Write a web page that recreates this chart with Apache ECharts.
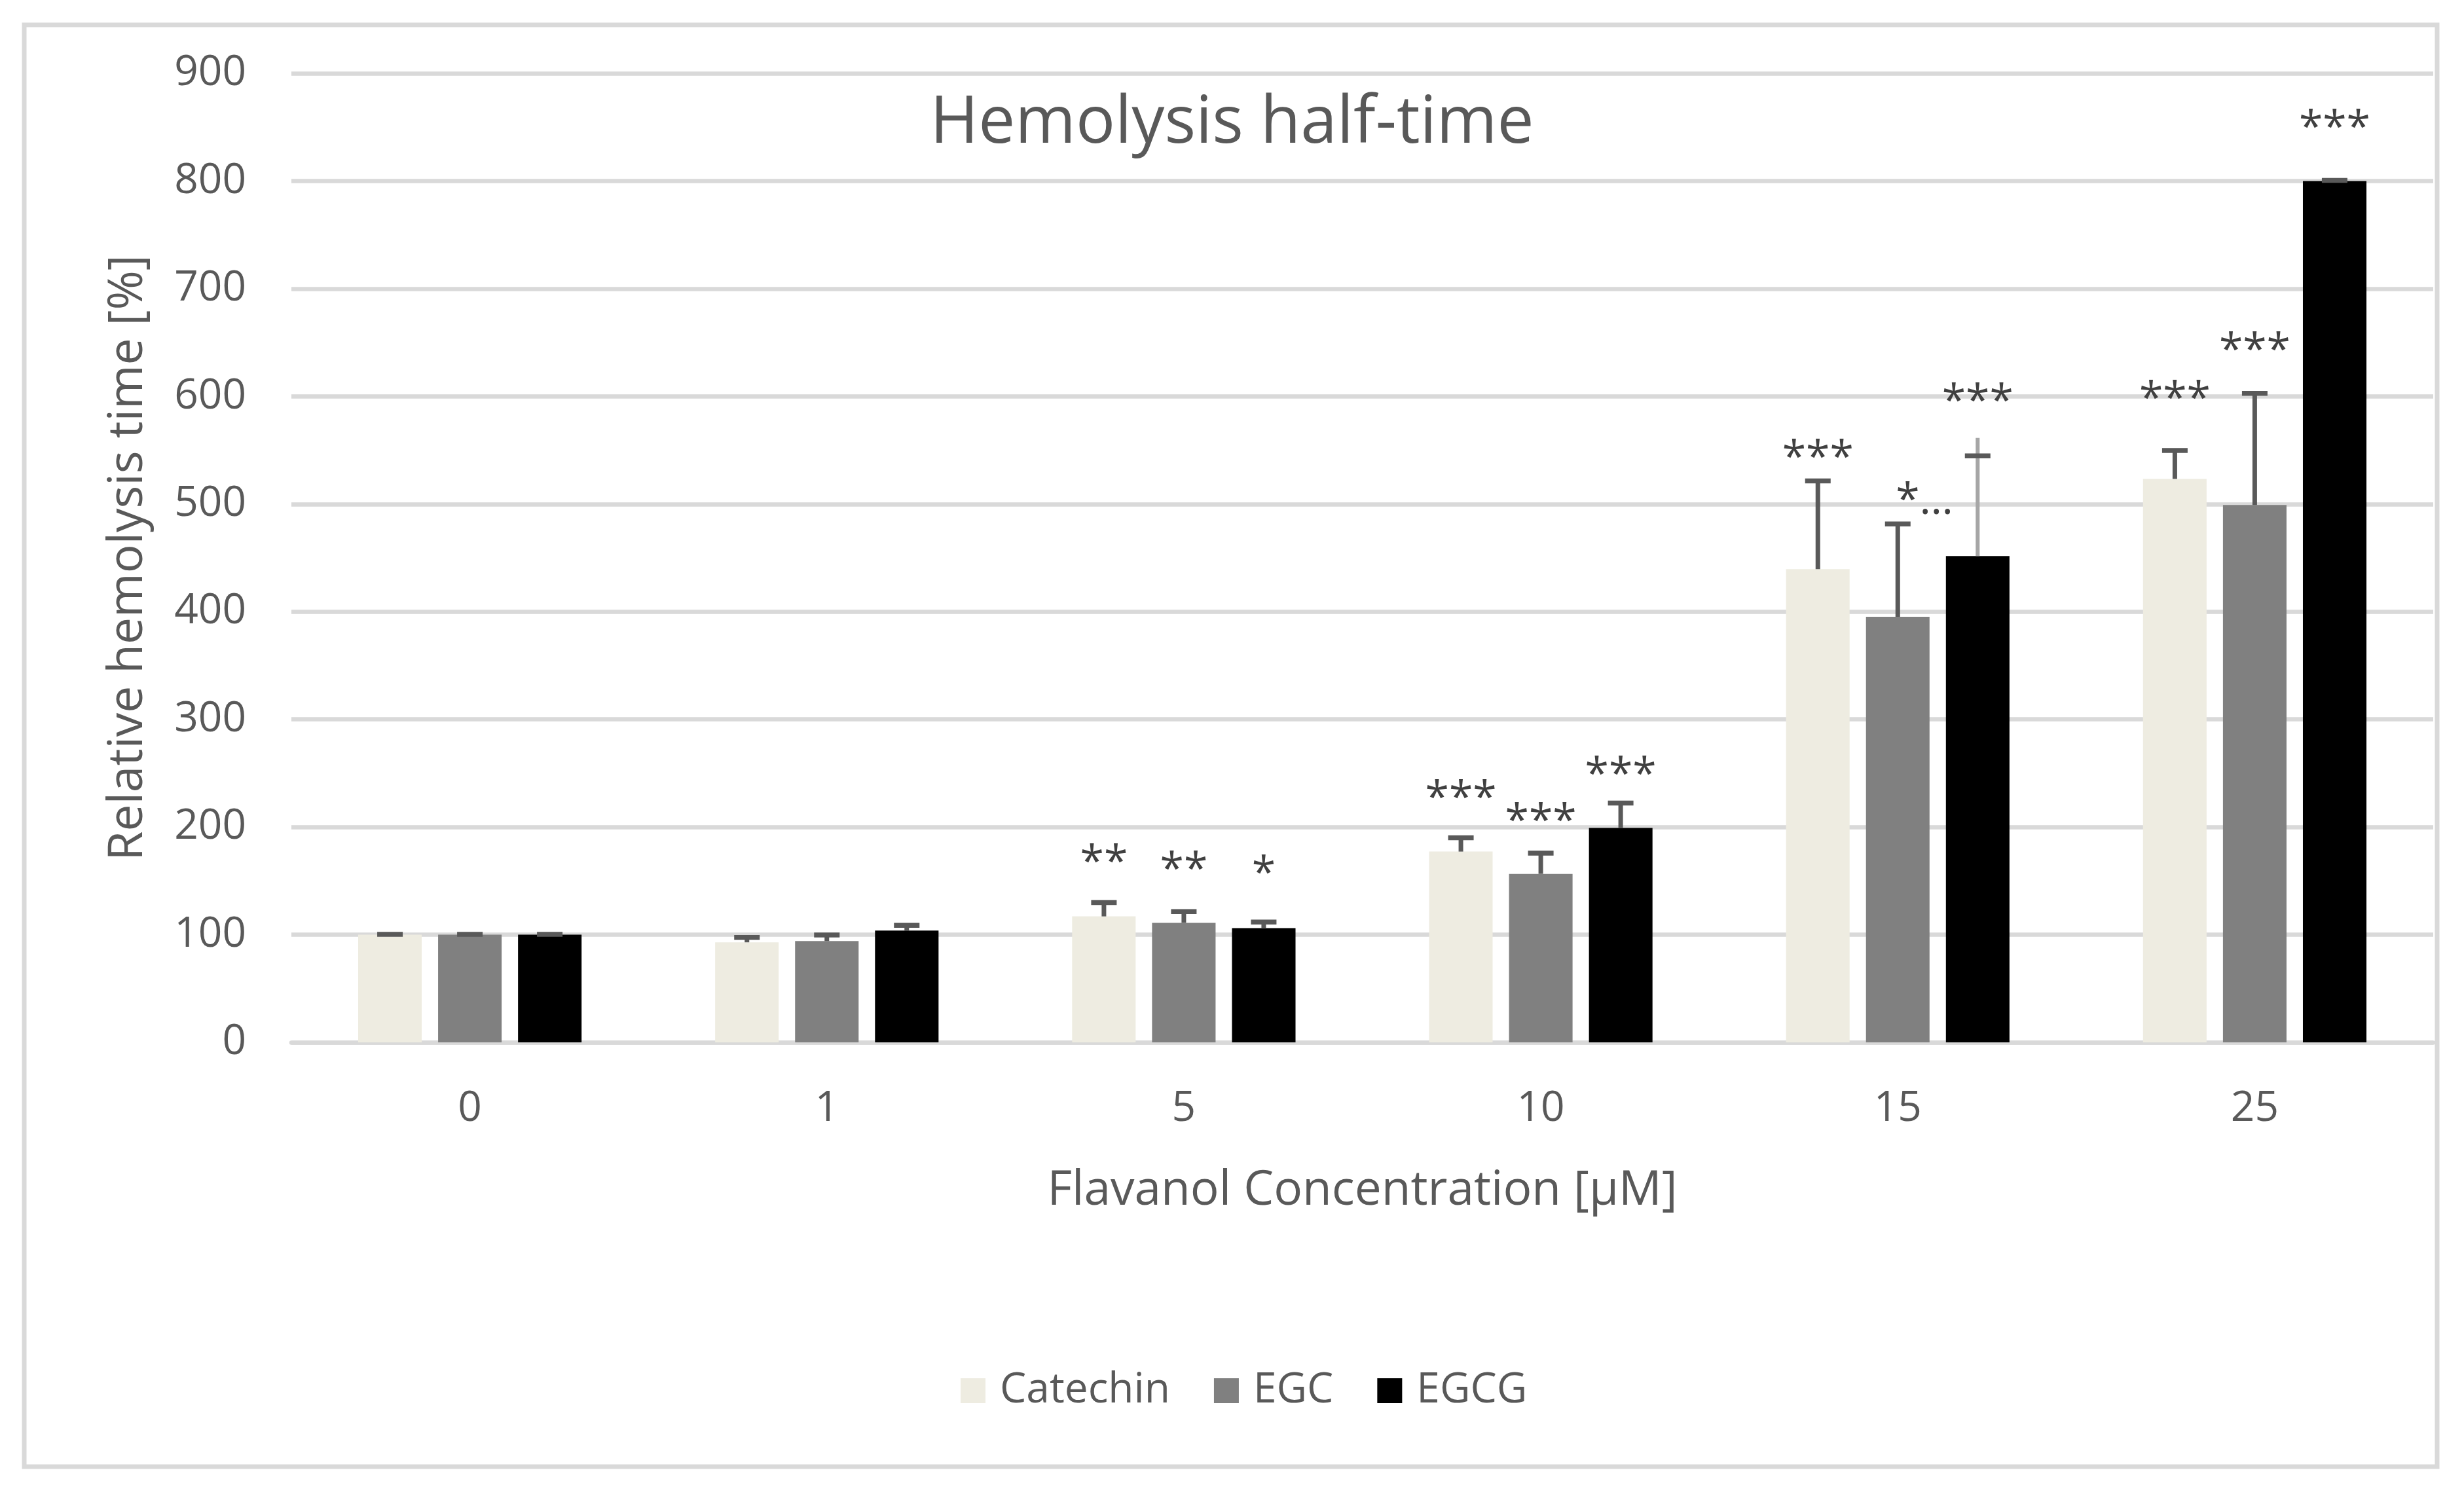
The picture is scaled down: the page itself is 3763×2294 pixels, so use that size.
<!DOCTYPE html>
<html>
<head>
<meta charset="utf-8">
<script src="https://cdn.jsdelivr.net/npm/echarts@6/dist/echarts.min.js"></script>
<style>
html,body{margin:0;padding:0;background:#fff;}
#chart{width:3763px;height:2294px;}
</style>
</head>
<body>
<div id="chart"></div>
<script>
const categories = ['0', '1', '5', '10', '15', '25'];
const seriesNames = ['Catechin', 'EGC', 'EGCG'];
const catechin = [100, 92.9, 117.0, 177.2, 439.5, 523.3];
const egc = [100, 94.1, 111.0, 156.5, 395.3, 499.1];
const egcg = [100, 103.8, 106.1, 199.1, 451.6, 800];
const catechinErr = [0.3, 4.5, 12.9, 12.8, 82.0, 26.5];
const egcErr = [0.3, 5.7, 10.5, 19.3, 86.1, 103.7];
const egcgErr = [0.3, 4.9, 5.7, 23.2, 93.1, 0.6];
const catechinSig = ['', '', '**', '***', '***', '***'];
const egcSig = ['', '', '**', '***', '*…', '***'];
const egcgSig = ['', '', '*', '***', '***', '***'];
const catechinSigAt = [null, null, 174.4, 233.8, 550.2, 604.7];
const egcSigAt = [null, null, 167.9, 212.8, 510.7, 650.0];
const egcgSigAt = [null, null, 164.2, 255.9, 602.8, 856.7];
const egcgWhiskerTop = [null, null, null, null, 561.4, null];
const yTicks = [0, 100, 200, 300, 400, 500, 600, 700, 800, 900];

const colors = ['#eeece1', '#808080', '#000000'];
const FONT = '"Open Sans", "DejaVu Sans", sans-serif';

function errorSeries(name, idx, values, errs, sigs, sigAt, whisker) {
  return {
    type: 'custom',
    name: name + ' error',
    z: 10,
    silent: true,
    data: categories.map((c, i) => [i, values[i], errs[i]]),
    encode: { x: 0, y: 1 },
    renderItem: function (params, api) {
      const i = api.value(0);
      const band = api.size([1, 0])[0];
      const off = (idx - 1) * 0.2238 * band;
      const base = api.coord([i, api.value(1)]);
      const x = base[0] + off;
      const topY = api.coord([i, api.value(1) + api.value(2)])[1];
      const children = [];
      const w = whisker ? whisker[i] : null;
      if (w != null) {
        const wy = api.coord([i, w])[1];
        children.push({ type: 'line', shape: { x1: x, y1: base[1], x2: x, y2: wy }, style: { stroke: '#a6a6a6', lineWidth: 6 } });
      } else {
        children.push({ type: 'line', shape: { x1: x, y1: base[1], x2: x, y2: topY }, style: { stroke: '#595959', lineWidth: 7 } });
      }
      children.push({ type: 'line', shape: { x1: x - 19.5, y1: topY, x2: x + 19.5, y2: topY }, style: { stroke: '#595959', lineWidth: 7.5 } });
      const sig = sigs[i];
      if (sig) {
        const sy = api.coord([i, sigAt[i]])[1];
        const leftAlign = sig.indexOf('…') >= 0;
        children.push({
          type: 'text',
          x: leftAlign ? x - 3 : x,
          y: sy + 14,
          style: { text: sig, fill: '#404040', font: '66px ' + FONT, align: leftAlign ? 'left' : 'center', verticalAlign: 'middle' }
        });
      }
      return { type: 'group', children: children };
    }
  };
}

const chart = echarts.init(document.getElementById('chart'), null, { renderer: 'canvas' });
const option = {
  animation: false,
  backgroundColor: '#ffffff',
  textStyle: { fontFamily: FONT, color: '#595959' },
  title: {
    text: 'Hemolysis half-time',
    left: 'center',
    top: 135,
    textStyle: { fontFamily: FONT, fontSize: 100, fontWeight: 'normal', color: '#595959' }
  },
  legend: {
    data: seriesNames,
    left: 1462,
    top: 2087,
    icon: 'rect',
    itemWidth: 38,
    itemHeight: 38,
    itemGap: 67,
    textStyle: { fontFamily: FONT, fontSize: 64, color: '#595959', padding: [0, 0, 0, 17], lineHeight: 64 }
  },
  grid: { left: 445, right: 47, top: 112, bottom: 702 },
  xAxis: {
    type: 'category',
    data: categories,
    name: 'Flavanol Concentration [µM]',
    nameLocation: 'middle',
    nameGap: 191,
    nameTextStyle: { fontFamily: FONT, fontSize: 73, color: '#595959' },
    axisLine: { lineStyle: { color: '#d9d9d9', width: 6.5 } },
    axisTick: { show: false },
    axisLabel: { fontFamily: FONT, fontSize: 64, color: '#595959', margin: 70 }
  },
  yAxis: {
    type: 'value',
    min: yTicks[0],
    max: yTicks[yTicks.length - 1],
    interval: 100,
    name: 'Relative hemolysis time [%]',
    nameLocation: 'middle',
    nameGap: 212,
    nameTextStyle: { fontFamily: FONT, fontSize: 73, color: '#595959' },
    axisLine: { show: false },
    axisTick: { show: false },
    splitLine: { lineStyle: { color: '#d9d9d9', width: 6.5 } },
    axisLabel: { fontFamily: FONT, fontSize: 64, color: '#595959', margin: 69 }
  },
  series: [
    { type: 'bar', name: 'Catechin', data: catechin, itemStyle: { color: colors[0] }, barWidth: '17.8%', barGap: '25.8%' },
    { type: 'bar', name: 'EGC', data: egc, itemStyle: { color: colors[1] }, barWidth: '17.8%', barGap: '25.8%' },
    { type: 'bar', name: 'EGCG', data: egcg, itemStyle: { color: colors[2] }, barWidth: '17.8%', barGap: '25.8%' },
    errorSeries('Catechin', 0, catechin, catechinErr, catechinSig, catechinSigAt, null),
    errorSeries('EGC', 1, egc, egcErr, egcSig, egcSigAt, null),
    errorSeries('EGCG', 2, egcg, egcgErr, egcgSig, egcgSigAt, egcgWhiskerTop)
  ],
  graphic: [
    {
      type: 'rect',
      shape: { x: 37, y: 38, width: 3685, height: 2202 },
      style: { fill: 'none', stroke: '#d9d9d9', lineWidth: 7 },
      silent: true,
      z: -1
    }
  ]
};
chart.setOption(option);
</script>
</body>
</html>
